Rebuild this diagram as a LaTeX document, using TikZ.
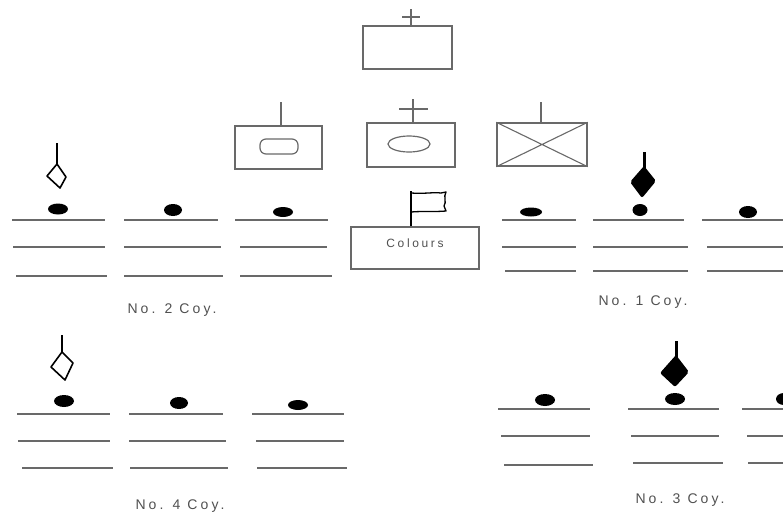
\documentclass[tikz,border=0pt]{standalone}
\usepackage{fontspec}
\setmainfont{Liberation Sans}
\newfontfamily\spacedfont[LetterSpace=22]{Liberation Sans}
\definecolor{linegray}{RGB}{105,105,105}
\definecolor{textgray}{RGB}{80,80,80}
\tikzset{
  unitbox/.style={draw=linegray, line width=1.5pt, inner sep=0pt},
  rank/.style={draw=linegray, line width=1.7pt},
  stem/.style={draw=linegray, line width=1.4pt},
  blob/.style={fill=black},
  flagpen/.style={draw=black, line width=1.6pt, line join=round},
  coylabel/.style={text=textgray, font=\spacedfont\fontsize{14}{16}\selectfont, inner sep=0pt}
}
\begin{document}
\begin{tikzpicture}[x=1pt,y=-1pt]
\useasboundingbox (0,0) rectangle (783,517);
\clip (0,0) rectangle (783,517);
% --- HQ boxes ---
\node[unitbox, minimum width=89pt, minimum height=43pt] (hq) at (407.5,47.5) {};
\coordinate (hqtop) at (411,9);
\draw[stem] (hq.north -| hqtop) -- (hqtop);
\draw[stem] (402,17) -- (420,17);

\node[unitbox, minimum width=87pt, minimum height=43pt] (bl) at (278.5,147.5) {};
\coordinate (bltop) at (281,102);
\draw[stem] (bl.north -| bltop) -- (bltop);
\draw[draw=linegray, line width=1.2pt, rounded corners=6pt] (260,139) rectangle (298,154);

\node[unitbox, minimum width=88pt, minimum height=44pt] (bc) at (411,145) {};
\coordinate (bctop) at (413,99);
\draw[stem] (bc.north -| bctop) -- (bctop);
\draw[stem] (399,109) -- (428,109);
\draw[draw=linegray, line width=1.2pt] (409,144) ellipse [x radius=21, y radius=8];

\node[unitbox, minimum width=90pt, minimum height=43pt] (br) at (542,144.5) {};
\coordinate (brtop) at (541,102);
\draw[stem] (br.north -| brtop) -- (brtop);
\draw[draw=linegray, line width=1.1pt] (br.north west) -- (br.south east) (br.south west) -- (br.north east);

% --- Colours ---
\node[unitbox, minimum width=128pt, minimum height=42pt] (col) at (415,248) {};
\node[text=textgray, font=\spacedfont\fontsize{12}{14}\selectfont, inner sep=0pt] (coltext) at (415,243) {Colours};
\coordinate (poletop) at (411,191);
\draw[flagpen, line width=1.3pt] (col.north -| poletop) -- (poletop);
\draw[flagpen, line width=1.3pt] (411,193) .. controls (425,194) and (433,192) .. (441,193) -- (446,192) .. controls (443,197) and (447,202) .. (444,206) -- (446,211) .. controls (435,212) and (422,211) .. (411,212);

% --- No. 2 Coy. ---
\draw[rank] (12,220) -- (105,220) (13,247) -- (105,247) (16,276) -- (107,276);
\draw[rank] (124,220) -- (218,220) (124,247) -- (221,247) (124,276) -- (223,276);
\draw[rank] (235,220) -- (328,220) (240,247) -- (327,247) (240,276) -- (332,276);
\fill[blob] (58,209) ellipse [x radius=10, y radius=5.5];
\fill[blob] (173,210) ellipse [x radius=9, y radius=6];
\fill[blob] (283,212) ellipse [x radius=10, y radius=5];
\draw[flagpen] (57,143) -- (57,164);
\draw[flagpen] (57,164) -- (66,177) -- (60,188) -- (47,176) -- cycle;
\node[coylabel] (l2) at (172,310) {No. 2 Coy.};

% --- No. 1 Coy. ---
\draw[rank] (502,220) -- (576,220) (502,247) -- (576,247) (505,271) -- (576,271);
\draw[rank] (593,220) -- (684,220) (593,247) -- (688,247) (593,271) -- (688,271);
\draw[rank] (702,220) -- (783,220) (707,247) -- (783,247) (707,271) -- (783,271);
\fill[blob] (531,212) ellipse [x radius=11, y radius=4.5];
\fill[blob] (640,210) ellipse [x radius=7.5, y radius=6];
\fill[blob] (748,212) ellipse [x radius=9, y radius=6];
\draw[stem, draw=black, line width=3pt] (644,152) -- (644,172);
\fill[black, rounded corners=2pt] (644,166) -- (656,181) -- (642,198) -- (630,182) -- cycle;
\node[coylabel] (l1) at (643,302) {No. 1 Coy.};

% --- No. 4 Coy. ---
\draw[rank] (17,414) -- (110,414) (18,441) -- (110,441) (22,468) -- (113,468);
\draw[rank] (129,414) -- (223,414) (129,441) -- (226,441) (130,468) -- (228,468);
\draw[rank] (252,414) -- (344,414) (256,441) -- (344,441) (257,468) -- (347,468);
\fill[blob] (64,401) ellipse [x radius=10, y radius=6];
\fill[blob] (179,403) ellipse [x radius=9, y radius=6];
\fill[blob] (298,405) ellipse [x radius=10, y radius=5];
\draw[flagpen] (62,335) -- (62,352);
\draw[flagpen] (62,352) -- (73,363) -- (65,380) -- (51,367) -- cycle;
\node[coylabel] (l4) at (180,506) {No. 4 Coy.};

% --- No. 3 Coy. ---
\draw[rank] (498,409) -- (590,409) (501,436) -- (590,436) (504,465) -- (593,465);
\draw[rank] (628,409) -- (719,409) (631,436) -- (719,436) (633,463) -- (723,463);
\draw[rank] (742,409) -- (783,409) (747,436) -- (783,436) (748,463) -- (783,463);
\fill[blob] (545,400) ellipse [x radius=10, y radius=6];
\fill[blob] (675,399) ellipse [x radius=10, y radius=6];
\fill[blob] (784,399) ellipse [x radius=8, y radius=6];
\draw[stem, draw=black, line width=3pt] (676,341) -- (676,358);
\fill[black, rounded corners=2pt] (676,355) -- (689,372) -- (675,387) -- (660,373) -- cycle;
\node[coylabel] (l3) at (680,500) {No. 3 Coy.};
\end{tikzpicture}
\end{document}
